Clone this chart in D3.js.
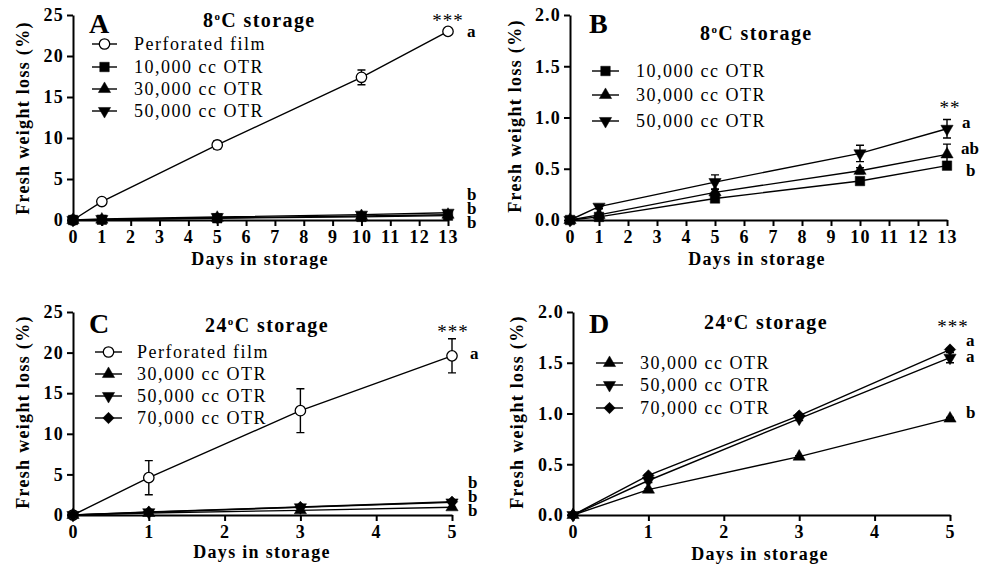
<!DOCTYPE html>
<html>
<head>
<meta charset="utf-8">
<script src="https://cdn.jsdelivr.net/npm/d3@7"></script>
<style>
  body { margin: 0; background: #fff; }
  svg { display: block; }
  text { font-family: "Liberation Serif", "Times New Roman", serif; fill: #000; }
  .tick text { font-weight: bold; font-size: 18px; letter-spacing: 1.2px; }
  .tick line, .domain { stroke: #000; stroke-width: 2px; }
  .axistext { font-weight: bold; font-size: 18px; letter-spacing: 1.3px; }
  .leg { font-size: 18px; letter-spacing: 1.5px; }
  .ttl { font-weight: bold; font-size: 20px; letter-spacing: 1.4px; }
  .letter { font-weight: bold; font-size: 28px; }
  .ann { font-weight: bold; font-size: 17px; }
  .stars { font-size: 19px; letter-spacing: 1px; }
</style>
</head>
<body>
<div class="chart"></div>
<script>
// data
var days13 = [0, 1, 5, 10, 13];
var days5 = [0, 1, 3, 5];

// 8C storage
var perf8 = [0, 2.25, 9.15, 17.4, 23.0];
var perf8Err = [0, 0.2, 0.5, 0.9, 0.2];
var otr10k8 = [0, 0.03, 0.21, 0.38, 0.53];
var otr10k8Err = [0, 0.01, 0.02, 0.02, 0.02];
var otr30k8 = [0, 0.05, 0.27, 0.48, 0.64];
var otr30k8Err = [0, 0.01, 0.03, 0.03, 0.1];
var otr50k8 = [0, 0.13, 0.37, 0.65, 0.89];
var otr50k8Err = [0, 0.02, 0.07, 0.08, 0.09];

// 24C storage
var perf24 = [0, 4.6, 12.85, 19.6];
var perf24Err = [0, 2.1, 2.7, 2.1];
var otr30k24 = [0, 0.25, 0.575, 0.95];
var otr30k24Err = [0, 0.01, 0.01, 0.01];
var otr50k24 = [0, 0.34, 0.95, 1.55];
var otr50k24Err = [0, 0.02, 0.02, 0.05];
var otr70k24 = [0, 0.39, 0.98, 1.63];
var otr70k24Err = [0, 0.01, 0.01, 0.01];

var ticks13 = [0,1,2,3,4,5,6,7,8,9,10,11,12,13];
var ticks5 = [0,1,2,3,4,5];
var ticksBig = [0, 5, 10, 15, 20, 25];
var ticksSmall = [0, 0.5, 1.0, 1.5, 2.0];

var W = 997, H = 569;
var svg = d3.select(".chart").append("svg")
    .attr("width", W)
    .attr("height", H);

function series(name, shape, days, vals, errs) {
  return { name: name, shape: shape, pts: days.map(function(d, i){ return { x: d, y: vals[i], e: errs[i] }; }) };
}

var panels = [
  { letter: "A", title: "8", xr: [73, 448], yr: [220, 15], xmax: 13, ymax: 25, xt: ticks13, yt: ticksBig, yfmt: d3.format("d"),
    letterPos: [89, 33], titlePos: [203, 27], leg: { x0: 92, x1: 117, tx: 134, ys: [44, 67, 89, 111] },
    xTitle: [260, 265], yTitle: [23, 118],
    data: [ series("Perforated film", "open", days13, perf8, perf8Err),
            series("10,000 cc OTR", "square", days13, otr10k8, otr10k8Err),
            series("30,000 cc OTR", "up", days13, otr30k8, otr30k8Err),
            series("50,000 cc OTR", "down", days13, otr50k8, otr50k8Err) ],
    anns: [ ["***", 448, 27, "stars", "middle"], ["a", 467, 37, "ann"], ["b", 467, 200, "ann"], ["b", 467, 214, "ann"], ["b", 467, 228, "ann"] ] },
  { letter: "B", title: "8", xr: [570, 947], yr: [220, 15], xmax: 13, ymax: 2, xt: ticks13, yt: ticksSmall, yfmt: d3.format(".1f"),
    letterPos: [589, 33], titlePos: [700, 40], leg: { x0: 592, x1: 619, tx: 636, ys: [71, 95, 121] },
    xTitle: [757, 265], yTitle: [515, 116],
    data: [ series("10,000 cc OTR", "square", days13, otr10k8, otr10k8Err),
            series("30,000 cc OTR", "up", days13, otr30k8, otr30k8Err),
            series("50,000 cc OTR", "down", days13, otr50k8, otr50k8Err) ],
    anns: [ ["**", 950, 114, "stars", "middle"], ["a", 962, 128, "ann"], ["ab", 961, 154, "ann"], ["b", 966, 176, "ann"] ] },
  { letter: "C", title: "24", xr: [73, 452], yr: [515, 312], xmax: 5, ymax: 25, xt: ticks5, yt: ticksBig, yfmt: d3.format("d"),
    letterPos: [89, 333], titlePos: [205, 332], leg: { x0: 95, x1: 122, tx: 137, ys: [352, 374, 396, 418] },
    xTitle: [262, 558], yTitle: [23, 412],
    data: [ series("Perforated film", "open", days5, perf24, perf24Err),
            series("30,000 cc OTR", "up", days5, otr30k24, otr30k24Err),
            series("50,000 cc OTR", "down", days5, otr50k24, otr50k24Err),
            series("70,000 cc OTR", "diamond", days5, otr70k24, otr70k24Err) ],
    anns: [ ["***", 453, 338, "stars", "middle"], ["a", 470, 359, "ann"], ["b", 468, 488, "ann"], ["b", 468, 502, "ann"], ["b", 468, 516, "ann"] ] },
  { letter: "D", title: "24", xr: [573, 950], yr: [515, 312], xmax: 5, ymax: 2, xt: ticks5, yt: ticksSmall, yfmt: d3.format(".1f"),
    letterPos: [589, 333], titlePos: [704, 329], leg: { x0: 596, x1: 623, tx: 640, ys: [363, 385, 408] },
    xTitle: [760, 560], yTitle: [517, 412],
    data: [ series("30,000 cc OTR", "up", days5, otr30k24, otr30k24Err),
            series("50,000 cc OTR", "down", days5, otr50k24, otr50k24Err),
            series("70,000 cc OTR", "diamond", days5, otr70k24, otr70k24Err) ],
    anns: [ ["***", 953, 333, "stars", "middle"], ["a", 966, 346, "ann"], ["a", 966, 362, "ann"], ["b", 966, 418, "ann"] ] }
];

var symbols = {
  open:    { type: d3.symbolCircle, size: 85, rot: 0 },
  square:  { type: d3.symbolSquare, size: 90, rot: 0 },
  up:      { type: d3.symbolTriangle, size: 65, rot: 0 },
  down:    { type: d3.symbolTriangle, size: 65, rot: 180 },
  diamond: { type: d3.symbolSquare, size: 65, rot: 45 }
};

function drawMarker(g, shape, cx, cy) {
  var s = symbols[shape];
  g.append("path")
    .attr("d", d3.symbol().type(s.type).size(s.size)())
    .attr("transform", "translate(" + cx + "," + cy + ") rotate(" + s.rot + ")")
    .attr("fill", shape == "open" ? "#fff" : "#000")
    .attr("stroke", "#000")
    .attr("stroke-width", shape == "open" ? 1.3 : 0.5);
}

panels.forEach(function(p) {
  var x = d3.scaleLinear().domain([0, p.xmax]).range(p.xr);
  var y = d3.scaleLinear().domain([0, p.ymax]).range(p.yr);
  var g = svg.append("g");

  g.append("g")
    .attr("transform", "translate(0," + p.yr[0] + ")")
    .call(d3.axisBottom(x).tickValues(p.xt).tickSize(6).tickSizeOuter(0).tickPadding(4).tickFormat(d3.format("d")));
  g.append("g")
    .attr("transform", "translate(" + p.xr[0] + ",0)")
    .call(d3.axisLeft(y).tickValues(p.yt).tickSize(6).tickSizeOuter(0).tickPadding(3).tickFormat(p.yfmt));

  var line = d3.line().x(function(d){ return x(d.x); }).y(function(d){ return y(d.y); });

  // lines first, then error bars, then markers
  p.data.forEach(function(s) {
    g.append("path").datum(s.pts)
      .attr("d", line)
      .attr("fill", "none")
      .attr("stroke", "#000")
      .attr("stroke-width", 1.4);
  });
  p.data.forEach(function(s) {
    s.pts.forEach(function(d) {
      if (!d.e) return;
      var px = x(d.x), top = y(d.y + d.e), bot = y(d.y - d.e);
      g.append("path")
        .attr("d", "M" + px + "," + top + "V" + bot + "M" + (px - 4) + "," + top + "H" + (px + 4) + "M" + (px - 4) + "," + bot + "H" + (px + 4))
        .attr("fill", "none").attr("stroke", "#000").attr("stroke-width", 1.4);
    });
  });
  p.data.forEach(function(s) {
    s.pts.forEach(function(d) { drawMarker(g, s.shape, x(d.x), y(d.y)); });
  });

  // legend
  p.data.forEach(function(s, i) {
    var ly = p.leg.ys[i];
    g.append("line")
      .attr("x1", p.leg.x0).attr("x2", p.leg.x1).attr("y1", ly).attr("y2", ly)
      .attr("stroke", "#000").attr("stroke-width", 1.4);
    drawMarker(g, s.shape, (p.leg.x0 + p.leg.x1) / 2, ly);
    g.append("text").attr("class", "leg")
      .attr("x", p.leg.tx).attr("y", ly + 6)
      .text(s.name);
  });

  // panel letter + title
  g.append("text").attr("class", "letter")
    .attr("x", p.letterPos[0]).attr("y", p.letterPos[1]).text(p.letter);
  var t = g.append("text").attr("class", "ttl")
    .attr("x", p.titlePos[0]).attr("y", p.titlePos[1]);
  t.append("tspan").text(p.title);
  t.append("tspan").attr("font-size", "11px").attr("dy", -7).text("o");
  t.append("tspan").attr("dy", 7).text("C storage");

  // annotations
  p.anns.forEach(function(a) {
    g.append("text").attr("class", a[3])
      .attr("x", a[1]).attr("y", a[2])
      .style("text-anchor", a[4] || "start")
      .text(a[0]);
  });

  // axis titles
  g.append("text").attr("class", "axistext")
    .attr("x", p.xTitle[0]).attr("y", p.xTitle[1])
    .style("text-anchor", "middle")
    .text("Days in storage");
  g.append("text").attr("class", "axistext")
    .attr("transform", "translate(" + (p.yTitle[0] + 6) + "," + p.yTitle[1] + ") rotate(-90)")
    .style("text-anchor", "middle")
    .text("Fresh weight loss (%)");
});
</script>
</body>
</html>
